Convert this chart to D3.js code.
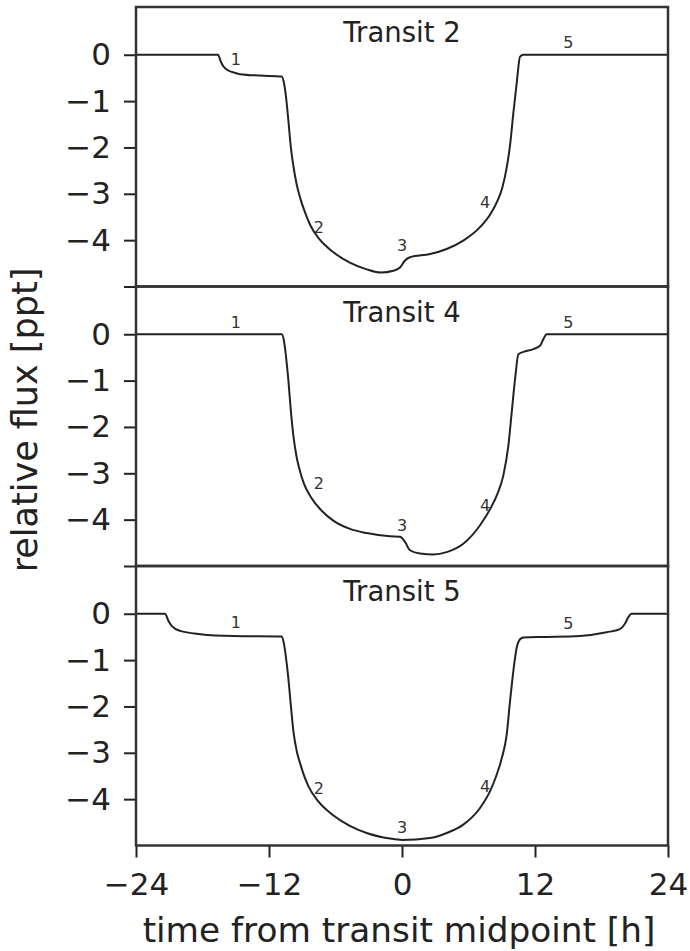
<!DOCTYPE html>
<html>
<head>
<meta charset="utf-8">
<script src="https://cdn.jsdelivr.net/npm/d3@7"></script>
<style>
  html, body { margin: 0; padding: 0; background: #fff; }
  svg { display: block; font-family: "DejaVu Sans", sans-serif; }
</style>
</head>
<body>
<svg id="chart" width="690" height="951"></svg>
<script>
// Light curves [time (h), relative flux (ppt)] for each transit
const transit2 = [
  [-24, 0], [-16.6, 0], [-16.36, -0.14], [-16.12, -0.25], [-15.67, -0.34], [-15.2, -0.38],
  [-14.6, -0.42], [-12.8, -0.45], [-10.85, -0.47], [-10.65, -0.61], [-10.47, -0.90],
  [-10.26, -1.40], [-10.04, -1.97], [-9.8, -2.40], [-9.5, -2.80], [-9.15, -3.12],
  [-8.75, -3.40], [-8.25, -3.69], [-7.45, -3.98], [-6.3, -4.24], [-4.75, -4.48],
  [-3.19, -4.63], [-1.9, -4.70], [-0.78, -4.66], [-0.18, -4.59], [0.27, -4.44],
  [0.72, -4.37], [2.53, -4.30], [4.03, -4.19], [5.53, -4.01], [7.04, -3.72], [8.0, -3.43],
  [8.6, -3.16], [9.05, -2.87], [9.45, -2.43], [9.75, -1.95], [10.05, -1.25], [10.35, -0.61],
  [10.65, -0.04], [10.95, 0], [24, 0]
];
const transit4 = [
  [-24, 0], [-10.85, 0], [-10.65, -0.14], [-10.47, -0.47], [-10.26, -0.97], [-10.04, -1.62],
  [-9.8, -2.19], [-9.5, -2.66], [-9.15, -3.0], [-8.84, -3.23], [-8.2, -3.52], [-7.2, -3.82],
  [-6.2, -4.02], [-4.69, -4.20], [-3.19, -4.29], [-1.08, -4.36], [-0.18, -4.37],
  [0.27, -4.48], [0.72, -4.66], [1.63, -4.73], [2.83, -4.75], [4.03, -4.70], [5.53, -4.52],
  [7.04, -4.12], [8.0, -3.75], [8.6, -3.45], [9.14, -3.05], [9.6, -2.40], [9.9, -1.68],
  [10.2, -0.97], [10.5, -0.43], [10.95, -0.38], [11.85, -0.32], [12.45, -0.25],
  [12.75, -0.11], [13.05, 0], [24, 0]
];
const transit5 = [
  [-24, 0], [-21.38, 0], [-21.08, -0.15], [-20.78, -0.26], [-20.03, -0.37], [-18.2, -0.44],
  [-15.2, -0.48], [-10.85, -0.49], [-10.65, -0.65], [-10.47, -0.94], [-10.26, -1.38],
  [-10.04, -1.95], [-9.8, -2.53], [-9.5, -2.96], [-9.15, -3.26], [-8.9, -3.45],
  [-8.45, -3.72], [-7.55, -4.05], [-6.3, -4.33], [-4.75, -4.57], [-3.19, -4.73],
  [-1.08, -4.85], [0, -4.88], [2.53, -4.84], [4.03, -4.73], [5.53, -4.55], [7.04, -4.19],
  [8.0, -3.8], [8.5, -3.5], [9.0, -3.12], [9.45, -2.60], [9.75, -1.88], [10.05, -1.23],
  [10.35, -0.73], [10.65, -0.55], [10.95, -0.51], [13.05, -0.50], [16.05, -0.48],
  [18.46, -0.40], [19.66, -0.33], [20.1, -0.22], [20.41, -0.08], [20.71, 0], [24, 0]
];

// Phase markers 1-5: time and flux position of each number
const markerText = ["1", "2", "3", "4", "5"];
const markerTime = [-15, -7.5, 0, 7.5, 15];
const markerFlux2 = [-0.11, -3.73, -4.12, -3.19, 0.26];
const markerFlux4 = [0.26, -3.23, -4.12, -3.69, 0.26];
const markerFlux5 = [-0.19, -3.76, -4.62, -3.72, -0.22];

const panelTitles = ["Transit 2", "Transit 4", "Transit 5"];
const xTicks = [-24, -12, 0, 12, 24];
const yTicks = [-4, -3, -2, -1, 0];
const xDomain = [-24, 24];
const yDomain = [-5, 1.03];

const panels = [
  { title: panelTitles[0], curve: transit2, marks: markerFlux2 },
  { title: panelTitles[1], curve: transit4, marks: markerFlux4 },
  { title: panelTitles[2], curve: transit5, marks: markerFlux5 }
];

const svg = d3.select("#chart");
const left = 136, right = 668, top0 = 7, panelH = 279.5;
const ink = "#222";

const x = d3.scaleLinear().domain(xDomain).range([left, right]);
const minus = s => String(s).replace("-", "\u2212");

panels.forEach((p, i) => {
  const top = top0 + i * panelH;
  const y = d3.scaleLinear().domain(yDomain).range([top + panelH, top]);
  const g = svg.append("g");

  const clipId = "clip" + i;
  svg.append("clipPath").attr("id", clipId)
    .append("rect").attr("x", left).attr("y", top).attr("width", right - left).attr("height", panelH);

  // light curve
  const line = d3.line().x(d => x(d[0])).y(d => y(d[1])).curve(d3.curveMonotoneX);
  g.append("path").datum(p.curve)
    .attr("clip-path", `url(#${clipId})`)
    .attr("d", line)
    .attr("fill", "none")
    .attr("stroke", ink)
    .attr("stroke-width", 2)
    .attr("stroke-linejoin", "round");

  // phase numbers
  g.selectAll("text.mark").data(markerText).join("text")
    .attr("class", "mark")
    .attr("x", (d, j) => x(markerTime[j]))
    .attr("y", (d, j) => y(p.marks[j]))
    .attr("text-anchor", "middle")
    .attr("dominant-baseline", "central")
    .attr("font-size", 16)
    .attr("fill", "#333")
    .text(d => d);

  // title
  g.append("text")
    .attr("x", x(0))
    .attr("y", top + 35)
    .attr("text-anchor", "middle")
    .attr("font-size", 27.5)
    .attr("fill", ink)
    .text(p.title);

  // y axis
  const yAxis = d3.axisLeft(y).tickValues(i < 2 ? yTicks.concat([-5]) : yTicks)
    .tickSize(12).tickPadding(13)
    .tickFormat(d => d === -5 ? "" : minus(d));
  const ya = g.append("g").attr("transform", `translate(${left},0)`).call(yAxis);
  ya.select(".domain").remove();
  ya.selectAll("line").attr("stroke", ink).attr("stroke-width", 2);
  ya.selectAll("text").attr("font-size", 31).attr("fill", ink)
    .attr("font-family", "DejaVu Sans, sans-serif");

  // x axis on bottom panel only
  if (i === 2) {
    const xAxis = d3.axisBottom(x).tickValues(xTicks).tickSize(12).tickPadding(15)
      .tickFormat(minus);
    const xa = g.append("g").attr("transform", `translate(0,${top + panelH})`).call(xAxis);
    xa.select(".domain").remove();
    xa.selectAll("line").attr("stroke", ink).attr("stroke-width", 2);
    xa.selectAll("text").attr("font-size", 31).attr("fill", ink)
      .attr("font-family", "DejaVu Sans, sans-serif");
  }

  // frame
  g.append("rect")
    .attr("x", left).attr("y", top)
    .attr("width", right - left).attr("height", panelH)
    .attr("fill", "none").attr("stroke", "#333").attr("stroke-width", 2.5);
});

// axis titles
svg.append("text")
  .attr("x", 399)
  .attr("y", 942)
  .attr("text-anchor", "middle")
  .attr("font-size", 34.3)
  .attr("fill", ink)
  .text("time from transit midpoint [h]");

svg.append("text")
  .attr("transform", "translate(37,420) rotate(-90)")
  .attr("text-anchor", "middle")
  .attr("font-size", 35)
  .attr("fill", ink)
  .text("relative flux [ppt]");
</script>
</body>
</html>
